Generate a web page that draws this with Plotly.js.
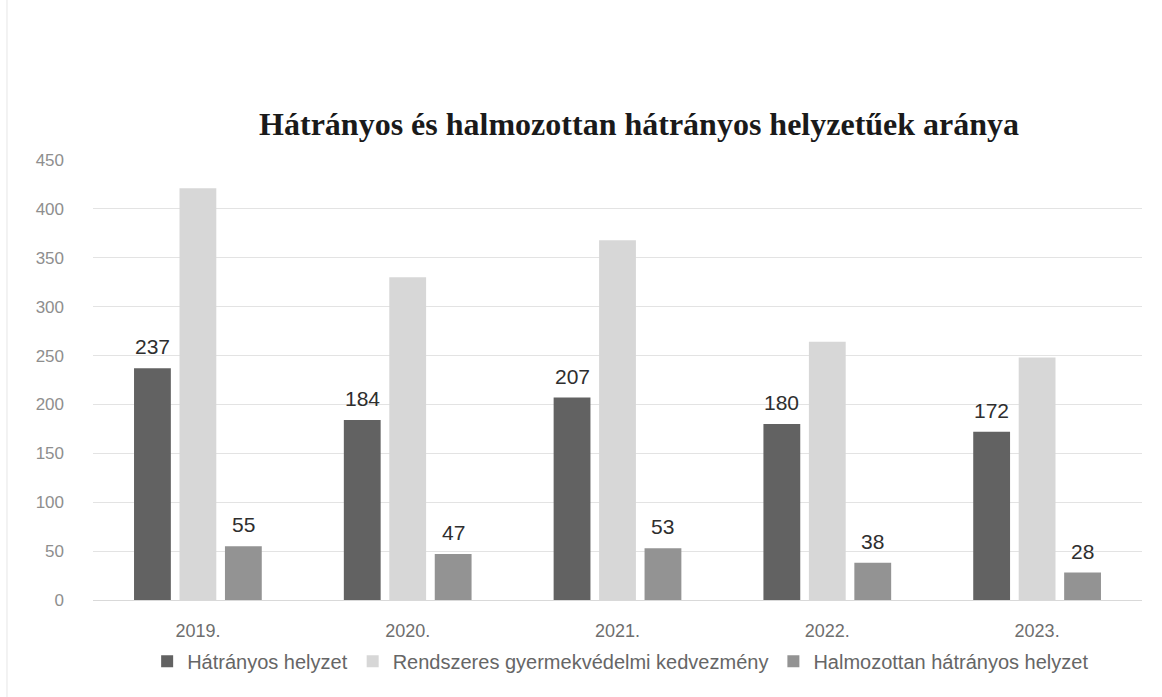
<!DOCTYPE html>
<html>
<head>
<meta charset="utf-8">
<script src="https://cdn.plot.ly/plotly-3.0.1.min.js"></script>
<style>html,body{margin:0;padding:0;background:#fff;}#chart{width:1162px;height:697px;}</style>
</head>
<body>
<div id="chart"></div>
<script>
const categories = ["2019.", "2020.", "2021.", "2022.", "2023."];
const hatranyos = [237, 184, 207, 180, 172];
const rendszeres = [421, 330, 368, 264, 248];
const halmozottan = [55, 47, 53, 38, 28];
const seriesNames = ["Hátrányos helyzet", "Rendszeres gyermekvédelmi kedvezmény", "Halmozottan hátrányos helyzet"];
const yTicks = [0, 50, 100, 150, 200, 250, 300, 350, 400, 450];

const labelFont = {family: "Liberation Sans, Arial, sans-serif", size: 21, color: "#2e2e2e"};

const traces = [
  {type: "bar", name: seriesNames[0], x: categories, y: hatranyos,
   marker: {color: "#626262"}, hoverinfo: "skip"},
  {type: "bar", name: seriesNames[1], x: categories, y: rendszeres,
   marker: {color: "#d7d7d7"}, hoverinfo: "skip"},
  {type: "bar", name: seriesNames[2], x: categories, y: halmozottan,
   marker: {color: "#939393"}, hoverinfo: "skip"}
];

const bargap = 0.35, bargroupgap = 0.19;
const plotW = 1162 - 93 - 20;
const catW = plotW / categories.length;
const slot = catW * (1 - bargap) / 3;

const annotations = [];
categories.forEach((c, i) => {
  annotations.push({x: i, y: hatranyos[i], text: String(hatranyos[i]), showarrow: false,
    xshift: -slot, yanchor: "bottom", yshift: 8, font: labelFont});
  annotations.push({x: i, y: halmozottan[i], text: String(halmozottan[i]), showarrow: false,
    xshift: slot, yanchor: "bottom", yshift: 8, font: labelFont});
});

const layout = {
  width: 1162, height: 697,
  paper_bgcolor: "#ffffff", plot_bgcolor: "#ffffff",
  margin: {l: 93, r: 20, t: 160, b: 97},
  title: {text: "<b>Hátrányos és halmozottan hátrányos helyzetűek aránya</b>",
          font: {family: "Liberation Serif, Times New Roman, serif", size: 32, color: "#1a1a1a"},
          x: 0.55, xanchor: "center", y: 0.823, yanchor: "middle"},
  barmode: "group", bargap: bargap, bargroupgap: bargroupgap,
  xaxis: {type: "category", range: [-0.5, categories.length - 0.5], showgrid: false, zeroline: false, showline: true,
          linecolor: "#d9d9d9", linewidth: 1, ticks: "", ticklabelstandoff: 14,
          tickfont: {family: "Liberation Sans, Arial, sans-serif", size: 18, color: "#6e6e6e"}},
  yaxis: {range: [0, 450], tickvals: yTicks, showgrid: true, gridcolor: "#e3e3e3", gridwidth: 1,
          zeroline: false, showline: false, ticks: "", ticklabelstandoff: 28,
          tickfont: {family: "Liberation Sans, Arial, sans-serif", size: 17, color: "#8e8e8e"}},
  showlegend: true,
  legend: {orientation: "h", x: 0.503, xanchor: "center", y: -0.095, yanchor: "top",
           font: {family: "Liberation Sans, Arial, sans-serif", size: 20, color: "#666666"},
           itemwidth: 30, tracegroupgap: 0},
  annotations: annotations,
  shapes: [
    {type: "line", xref: "paper", yref: "paper", x0: -0.082, x1: -0.082, y0: -0.3, y1: 1.5,
     line: {color: "#e6e6e6", width: 1}}
  ]
};

Plotly.newPlot("chart", traces, layout, {staticPlot: true, displayModeBar: false});
</script>
</body>
</html>
